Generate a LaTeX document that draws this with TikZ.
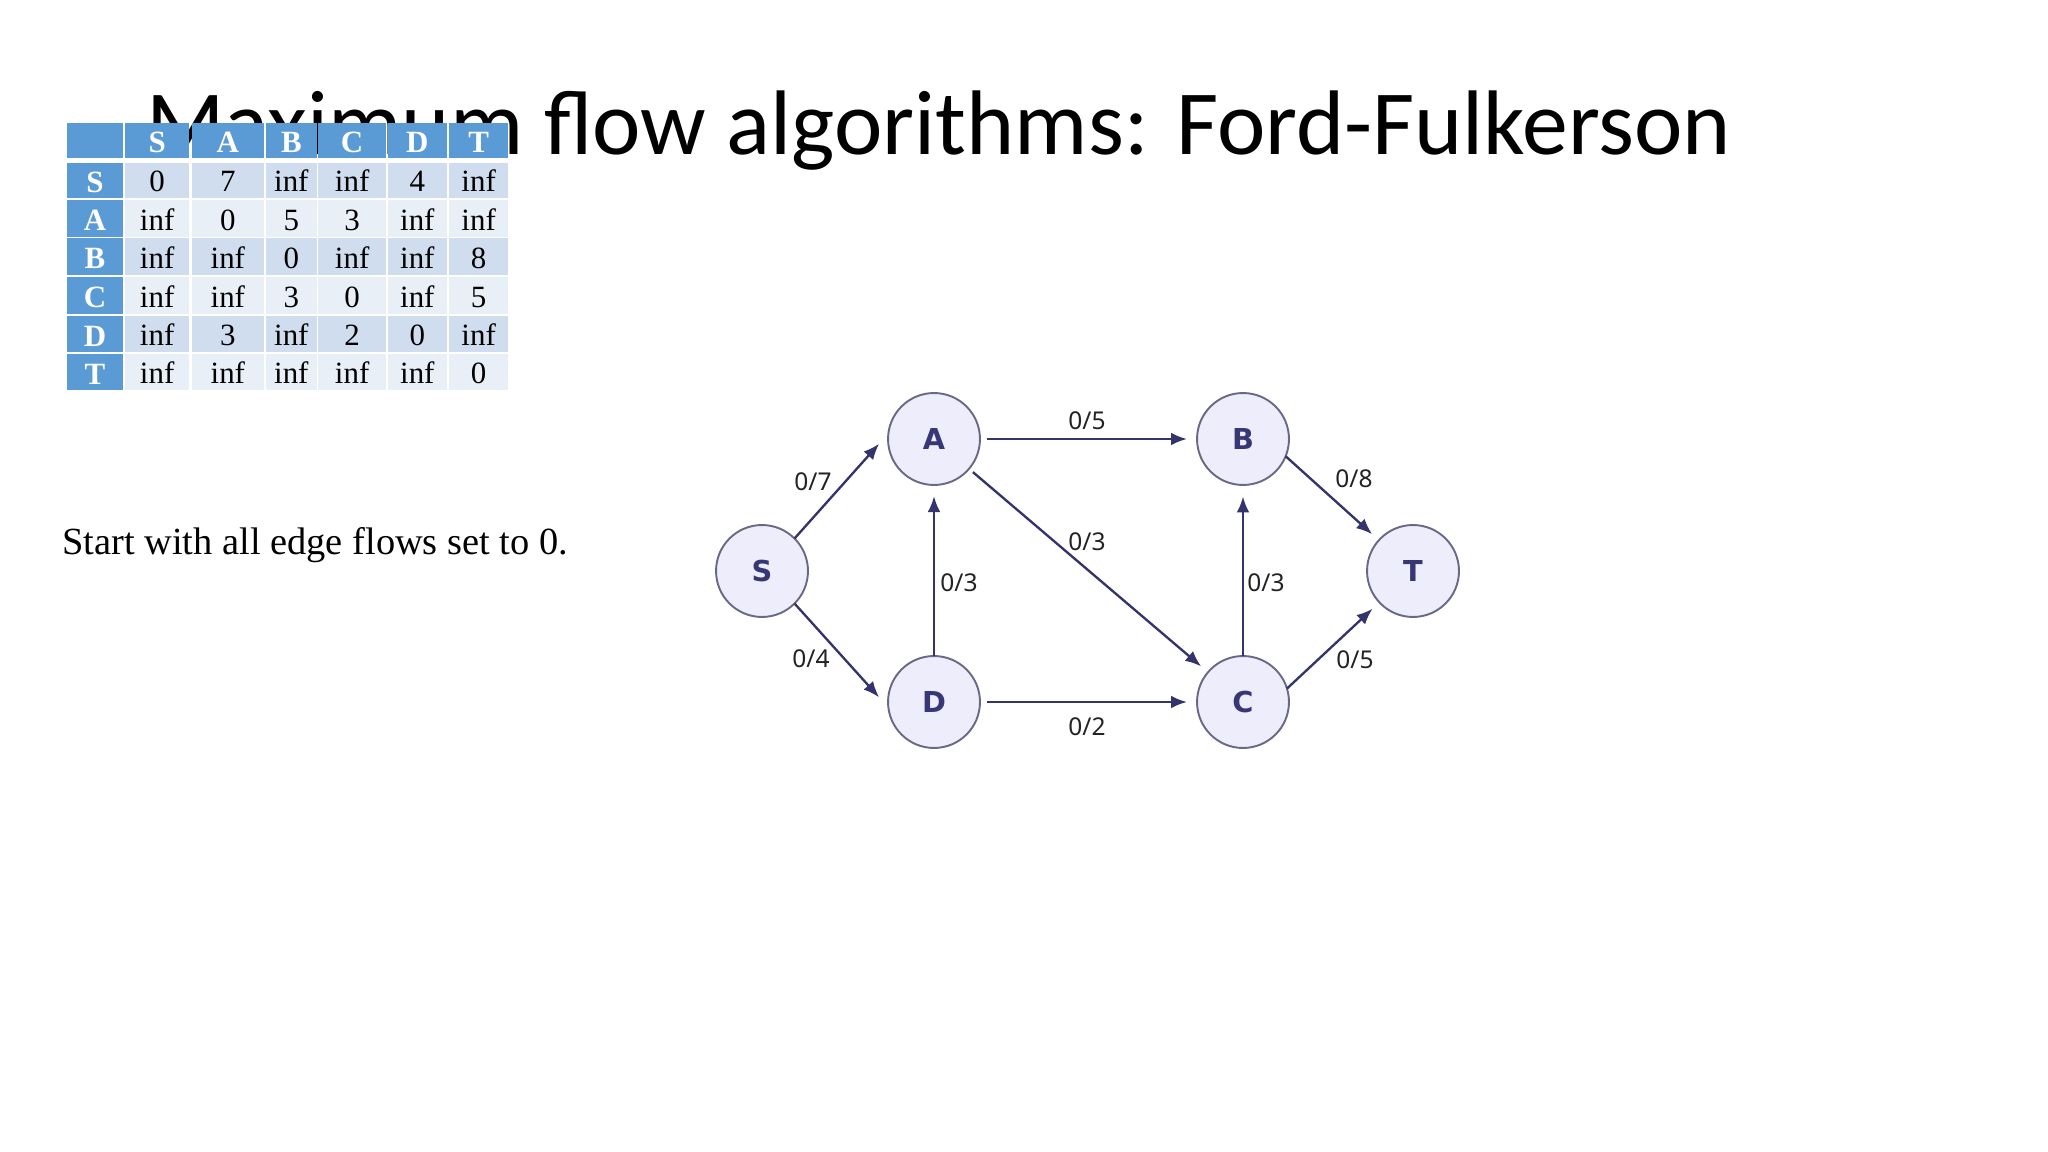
\documentclass[tikz,border=0pt]{standalone}
\usepackage{fontspec}
\setmainfont{Liberation Serif}
\newfontfamily\titlefont{Carlito}
\newfontfamily\labfont{Noto Sans}
\newfontfamily\nodefont{DejaVu Sans}
\usetikzlibrary{arrows.meta}
\definecolor{hdr}{RGB}{91,155,213}
\definecolor{rowdark}{RGB}{207,221,238}
\definecolor{rowlight}{RGB}{233,239,247}
\definecolor{nodefill}{RGB}{237,237,251}
\definecolor{nodeline}{RGB}{105,105,135}
\definecolor{edgecol}{RGB}{52,52,108}
\definecolor{nodetext}{RGB}{55,55,118}
\definecolor{labcol}{RGB}{35,35,35}
\def\colL{{67.3,125,191.7,266,318.3,388,449}}
\def\colR{{122.7,189.3,264,316.7,386,446.7,508.3}}
\def\rowT{{123.3,163.3,200,238.3,276.7,315.7,354}}
\def\rowB{{157.7,198.3,236.7,275,314,352.3,390}}
\newcommand\tabrow[2]{%
  \foreach \t [count=\cc from 0] in {#2} {
    \pgfmathsetmacro\xl{\colL[\cc]}
    \pgfmathsetmacro\xr{\colR[\cc]}
    \pgfmathsetmacro\yt{\rowT[#1]}
    \pgfmathsetmacro\yb{\rowB[#1]}
    \ifnum#1=0 \def\fc{hdr}\def\st{hcell}\def\off{5}\else
      \ifnum\cc=0 \def\fc{hdr}\def\st{hcell}\def\off{6}\else
        \ifodd#1 \def\fc{rowdark}\else\def\fc{rowlight}\fi
        \def\st{cell}\def\off{6.5}\fi\fi
    \fill[\fc] (\xl,\yt) rectangle (\xr,\yb);
    \node[\st] (cell-#1-\cc) at ({(\xl+\xr)/2},{\yb-\off}) {\t};
  }%
}
\begin{document}
\begin{tikzpicture}[x=0.46875pt,y=-0.46875pt,
  vertex/.style={circle,draw=nodeline,fill=nodefill,line width=0.9pt,minimum size=43.1pt,inner sep=0pt,outer sep=0pt,text=nodetext,font=\nodefont\bfseries\fontsize{13.5}{15}\selectfont},
  edge/.style={draw=edgecol,line width=1.1pt,-{Latex[length=7.5pt,width=6pt]}},
  flow/.style={text=labcol,font=\labfont\fontsize{11.5}{13}\selectfont,inner sep=0pt},
  cell/.style={anchor=base,inner sep=0pt,font=\fontsize{14.5}{16}\selectfont},
  hcell/.style={cell,text=white,font=\bfseries\fontsize{14.5}{16}\selectfont}]
\useasboundingbox (0,0) rectangle (2048,1152);
\node[anchor=base west,inner sep=0pt,font=\titlefont\fontsize{43}{50}\selectfont] (title) at (146,155) {Maximum flow algorithms: Ford-Fulkerson};
\tabrow{0}{{},S,A,B,C,D,T}
\tabrow{1}{S,0,7,inf,inf,4,inf}
\tabrow{2}{A,inf,0,5,3,inf,inf}
\tabrow{3}{B,inf,inf,0,inf,inf,8}
\tabrow{4}{C,inf,inf,3,0,inf,5}
\tabrow{5}{D,inf,3,inf,2,0,inf}
\tabrow{6}{T,inf,inf,inf,inf,inf,0}
\node[anchor=base west,inner sep=0pt,font=\fontsize{18}{22}\selectfont] (note) at (62,554) {Start with all edge flows set to 0.};
\node[vertex] (S) at (762,571) {S};
\node[vertex] (A) at (934,439) {A};
\node[vertex] (B) at (1243,439) {B};
\node[vertex] (T) at (1413,571) {T};
\node[vertex] (D) at (934,702) {D};
\node[vertex] (C) at (1243,702) {C};
\draw[edge,shorten >=6.5pt] (S.45) -- (A.173);
\draw[edge,shorten >=6.5pt] (S.-45) -- (D.187);
\draw[edge,shorten <=3.1pt,shorten >=4.7pt] (A) -- (B);
\draw[edge,shorten <=3.1pt,shorten >=4.7pt] (D) -- (C);
\draw[edge,shorten >=5.2pt] (D) -- (A);
\draw[edge,shorten >=5.4pt] (C) -- (B);
\draw[edge,shorten <=2.4pt,shorten >=4.2pt] (A) -- (C);
\draw[edge,shorten >=4.2pt] (B.-22) -- (T);
\draw[edge,shorten >=4.4pt] (C.17) -- (T);
\node[flow] (l1) at (813,482) {0/7};
\node[flow] (l2) at (811,659) {0/4};
\node[flow] (l3) at (1087,421) {0/5};
\node[flow] (l4) at (1087,542) {0/3};
\node[flow] (l5) at (959,583) {0/3};
\node[flow] (l6) at (1266,583) {0/3};
\node[flow] (l7) at (1087,727) {0/2};
\node[flow] (l8) at (1354,479) {0/8};
\node[flow] (l9) at (1355,660) {0/5};
\end{tikzpicture}
\end{document}
